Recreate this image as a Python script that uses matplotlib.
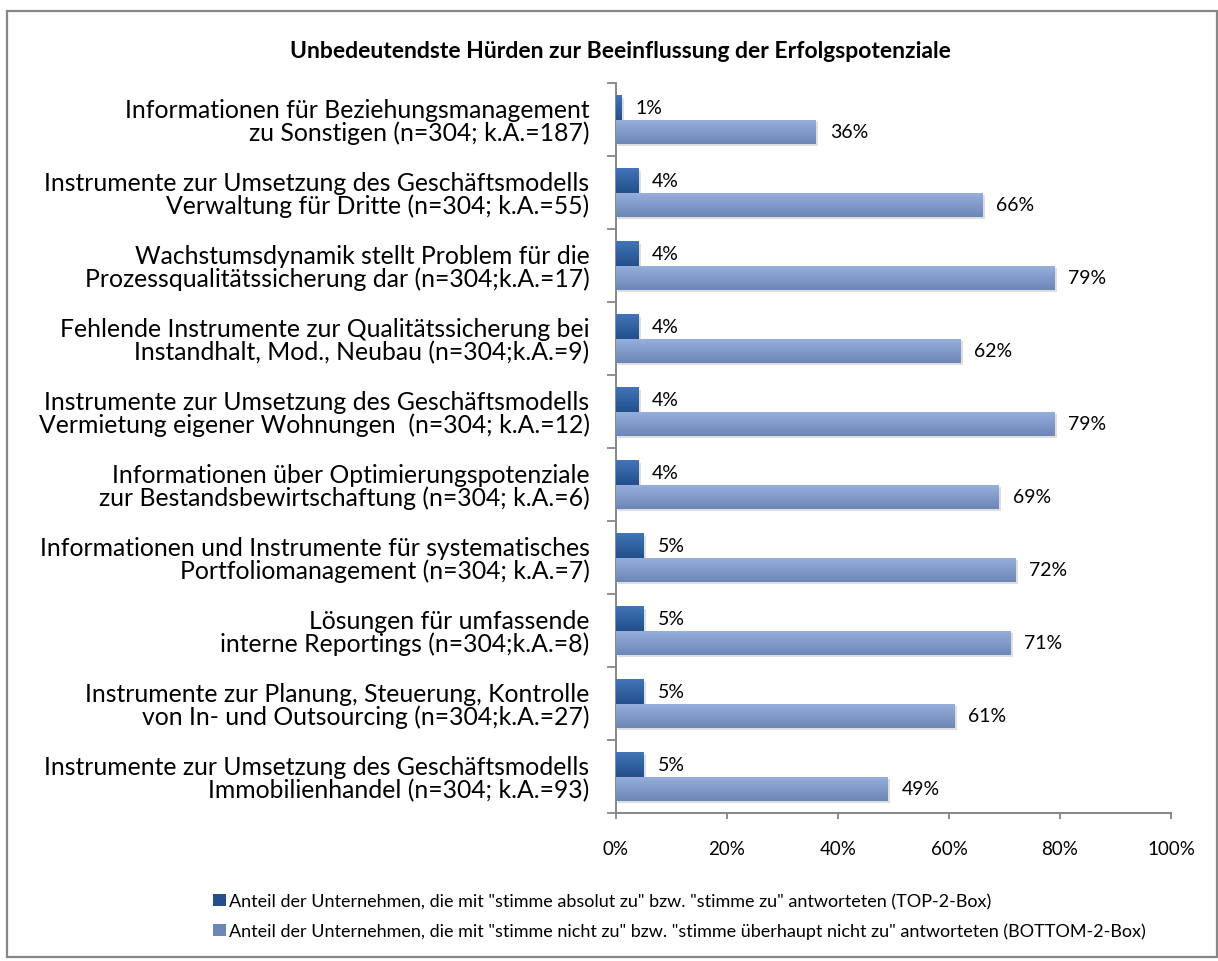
import numpy as np
import matplotlib
matplotlib.use('Agg')
import matplotlib.pyplot as plt
from matplotlib.patches import Patch, Rectangle
from matplotlib.colors import LinearSegmentedColormap
import matplotlib.transforms as mtransforms

plt.rcParams['font.family'] = ['Lato', 'DejaVu Sans']

title = 'Unbedeutendste Hürden zur Beeinflussung der Erfolgspotenziale'

categories = [
    'Informationen für Beziehungsmanagement\nzu Sonstigen (n=304; k.A.=187)',
    'Instrumente zur Umsetzung des Geschäftsmodells\nVerwaltung für Dritte (n=304; k.A.=55)',
    'Wachstumsdynamik stellt Problem für die\nProzessqualitätssicherung dar (n=304;k.A.=17)',
    'Fehlende Instrumente zur Qualitätssicherung bei\nInstandhalt, Mod., Neubau (n=304;k.A.=9)',
    'Instrumente zur Umsetzung des Geschäftsmodells\nVermietung eigener Wohnungen  (n=304; k.A.=12)',
    'Informationen über Optimierungspotenziale\nzur Bestandsbewirtschaftung (n=304; k.A.=6)',
    'Informationen und Instrumente für systematisches\nPortfoliomanagement (n=304; k.A.=7)',
    'Lösungen für umfassende\ninterne Reportings (n=304;k.A.=8)',
    'Instrumente zur Planung, Steuerung, Kontrolle\nvon In- und Outsourcing (n=304;k.A.=27)',
    'Instrumente zur Umsetzung des Geschäftsmodells\nImmobilienhandel (n=304; k.A.=93)',
]
top2 = [1, 4, 4, 4, 4, 4, 5, 5, 5, 5]
bottom2 = [36, 66, 79, 62, 79, 69, 72, 71, 61, 49]

legend_labels = [
    'Anteil der Unternehmen, die mit "stimme absolut zu" bzw. "stimme zu" antworteten (TOP-2-Box)',
    'Anteil der Unternehmen, die mit "stimme nicht zu" bzw. "stimme überhaupt nicht zu" antworteten (BOTTOM-2-Box)',
]
xticks = [0, 20, 40, 60, 80, 100]

dark = ('#4274b8', '#234f8b')
light = ('#97b0de', '#6c86b6')

fig = plt.figure(figsize=(12.18, 9.62), dpi=100)
fig.patches.append(Rectangle((0.0057, 0.004), 0.9935, 0.9835, transform=fig.transFigure,
                             fill=False, edgecolor='#878787', linewidth=1.6))

ax = fig.add_axes([0.5057, 0.1538, 0.4557, 0.7588])

y = np.arange(len(categories))
h = 0.33
bars_top = ax.barh(y - 0.165, top2, height=h, color=dark[1], zorder=2)
bars_bot = ax.barh(y + 0.165, bottom2, height=h, color=light[1], zorder=2)

ax.set_xlim(0, 100)
ax.set_ylim(len(categories) - 0.5, -0.5)

# soft drop shadow and vertical gradient on every bar
shadow_tr = mtransforms.offset_copy(ax.transData, fig=fig, x=2.5, y=-2.5, units='dots')
for bars, cols in ((bars_top, dark), (bars_bot, light)):
    cmap = LinearSegmentedColormap.from_list('g', [cols[0], cols[1]])
    grad = np.linspace(0, 1, 64).reshape(-1, 1)
    for p in bars:
        x0, y0, w, hh = p.get_x(), p.get_y(), p.get_width(), p.get_height()
        ax.add_patch(Rectangle((x0, y0), w, hh, transform=shadow_tr, facecolor='#000000',
                               alpha=0.13, edgecolor='none', zorder=1))
        im = ax.imshow(grad, cmap=cmap, extent=(x0, x0 + w, y0 + hh, y0), origin='upper',
                       aspect='auto', interpolation='bilinear', zorder=3)
        im.set_clip_path(p)

ax.set_xlim(0, 100)
ax.set_ylim(len(categories) - 0.5, -0.5)

for bars, vals in ((bars_top, top2), (bars_bot, bottom2)):
    for p, v in zip(bars, vals):
        ax.annotate(f'{v}%', (p.get_width(), p.get_y() + p.get_height() / 2),
                    xytext=(10, 0), textcoords='offset points', va='center', ha='left',
                    fontsize=14, color='#000000')

ax.set_yticks(y)
ax.set_yticklabels(categories, fontsize=17.8, multialignment='right', linespacing=0.98)
ax.set_yticks(np.arange(len(categories) + 1) - 0.5, minor=True)
ax.tick_params(axis='y', which='major', length=0, pad=19)
ax.tick_params(axis='y', which='minor', length=6.5, width=1.3, color='#868686')

ax.set_xticks(xticks)
ax.set_xticklabels([f'{t}%' for t in xticks], fontsize=13.5)
ax.tick_params(axis='x', length=4.5, width=1.3, color='#868686', pad=15)

for s in ('top', 'right'):
    ax.spines[s].set_visible(False)
for s in ('left', 'bottom'):
    ax.spines[s].set_color('#868686')
    ax.spines[s].set_linewidth(1.4)

fig.text(0.509, 0.946, title, ha='center', va='center', fontsize=16.5, fontweight='bold')

handles = [Patch(facecolor=dark[1]), Patch(facecolor=light[1])]
fig.legend(handles, legend_labels, loc='upper left', bbox_to_anchor=(0.169, 0.078),
           frameon=False, fontsize=13, handlelength=0.7, handleheight=0.7,
           handletextpad=0.2, labelspacing=0.75, borderaxespad=0)

fig.savefig('out.png', dpi=100)
